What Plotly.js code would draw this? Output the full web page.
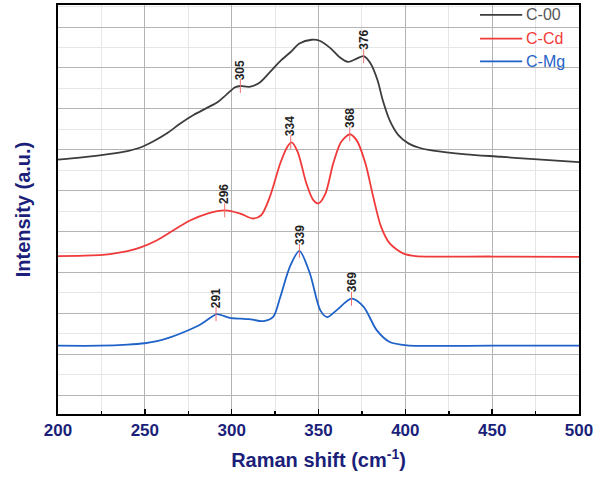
<!DOCTYPE html>
<html>
<head>
<meta charset="utf-8">
<script src="https://cdn.plot.ly/plotly-3.0.1.min.js"></script>
<style>html,body{margin:0;padding:0;background:#fff}#chart{width:602px;height:479px}</style>
</head>
<body>
<div id="chart"></div>
<script>
// C-00 (black)
const x00 = [200, 215, 230, 240, 247, 255, 263, 270, 278, 286, 292, 297, 302, 305, 310, 316, 322, 328, 334, 339, 346, 351, 357, 362, 367, 372, 376, 380, 384, 387, 391, 396, 402, 408, 416, 435, 455, 474, 500];
const y00 = [5.76, 5.82, 5.90, 5.97, 6.05, 6.21, 6.41, 6.63, 6.85, 7.03, 7.17, 7.35, 7.53, 7.56, 7.54, 7.64, 7.90, 8.17, 8.39, 8.60, 8.69, 8.66, 8.48, 8.27, 8.15, 8.23, 8.29, 8.11, 7.70, 7.21, 6.72, 6.36, 6.15, 6.05, 5.98, 5.89, 5.83, 5.77, 5.70];
// C-Cd (red)
const xCd = [200, 215, 230, 240, 248, 257, 266, 276, 286, 296, 305, 312, 317, 322, 328, 332, 334.5, 338, 343, 347, 350, 354, 358.5, 363, 368, 372, 377, 381.5, 386, 391, 399, 406, 450, 500];
const yCd = [3.40, 3.41, 3.45, 3.52, 3.62, 3.79, 4.02, 4.27, 4.44, 4.52, 4.44, 4.32, 4.40, 4.85, 5.67, 6.07, 6.18, 5.95, 5.18, 4.77, 4.69, 4.93, 5.67, 6.19, 6.38, 6.23, 5.67, 4.85, 4.12, 3.71, 3.46, 3.40, 3.39, 3.38];
// C-Mg (blue)
const xMg = [200, 224, 240, 250, 257, 265, 274, 282, 289, 291.5, 299, 305, 310, 318.5, 324, 328, 333.5, 339, 345, 351, 355, 360.5, 369, 376, 383.5, 391, 401, 450, 500];
const yMg = [1.21, 1.21, 1.235, 1.27, 1.32, 1.42, 1.57, 1.73, 1.93, 1.98, 1.89, 1.87, 1.86, 1.81, 1.92, 2.40, 3.14, 3.53, 2.98, 2.08, 1.91, 2.08, 2.36, 2.16, 1.59, 1.30, 1.22, 1.21, 1.21];

// labelled peaks
const peakX = [305, 376, 296, 334, 368, 291, 339, 369];
const peakY = [7.56, 8.29, 4.52, 6.18, 6.38, 1.98, 3.53, 2.36];
const peakLabels = ['305', '376', '296', '334', '368', '291', '339', '369'];

const seriesNames = ['C-00', 'C-Cd', 'C-Mg'];
const seriesColors = ['#3c3c3c', '#f03a3a', '#1f62c8'];
const legendTextColors = ['#555555', '#f03a3a', '#1f62c8'];
const xTicks = [200, 250, 300, 350, 400, 450, 500];

const FONT = 'Liberation Sans, Arial, sans-serif';
const navy = '#1b1f7a';
const series = [[x00, y00], [xCd, yCd], [xMg, yMg]];
const traces = series.map((s, i) => ({
  x: s[0], y: s[1], type: 'scatter', mode: 'lines', name: seriesNames[i], showlegend: false,
  line: {color: seriesColors[i], width: 1.8, shape: 'spline', smoothing: 0.8},
  hoverinfo: 'skip'
}));

traces.push({
  x: peakX, y: peakY, type: 'scatter', mode: 'markers', showlegend: false,
  marker: {symbol: 'line-ns-open', size: 10, color: '#f07070', line: {color: '#f07070', width: 1}},
  hoverinfo: 'skip'
});

const annotations = peakX.map((px, i) => ({
  x: px, y: peakY[i], xref: 'x', yref: 'y', text: peakLabels[i],
  showarrow: false, textangle: -90, xanchor: 'center', yanchor: 'bottom', yshift: 4,
  font: {family: FONT, size: 12, color: '#222222', weight: 'bold'}
}));

// manual legend (line segment + coloured name), placed in paper coords
const legY = [0.976, 0.918, 0.862];
const shapes = [];
seriesNames.forEach((n, i) => {
  shapes.push({type: 'line', xref: 'paper', yref: 'paper', x0: 0.810, x1: 0.891, y0: legY[i], y1: legY[i],
    line: {color: seriesColors[i], width: 1.8}});
  annotations.push({xref: 'paper', yref: 'paper', x: 0.894, y: legY[i], xanchor: 'left', yanchor: 'middle',
    text: n, showarrow: false, font: {family: FONT, size: 16, color: legendTextColors[i]}});
});

const layout = {
  width: 602, height: 479,
  margin: {l: 58, r: 23, t: 5, b: 65},
  paper_bgcolor: '#ffffff', plot_bgcolor: '#ffffff',
  font: {family: FONT},
  showlegend: false,
  xaxis: {
    range: [200, 500], tickvals: xTicks, ticktext: xTicks.map(String),
    ticks: 'inside', ticklen: 5, tickwidth: 1.5, tickcolor: '#000',
    showline: true, linecolor: '#000', linewidth: 2, mirror: true,
    showgrid: true, gridcolor: '#b4b4b4', gridwidth: 1, zeroline: false,
    minor: {dtick: 25, tick0: 225, ticks: 'inside', ticklen: 3, tickcolor: '#000', showgrid: true, gridcolor: '#e6e6e6', gridwidth: 1},
    tickfont: {size: 17, color: navy, weight: 'bold', family: FONT},
    title: {text: 'Raman shift (cm<sup>-1</sup>)', standoff: 14,
      font: {size: 20, color: navy, weight: 'bold', family: FONT}}
  },
  yaxis: {
    range: [-0.46, 9.54], dtick: 1, tick0: 0, showticklabels: false, ticks: '',
    showline: true, linecolor: '#000', linewidth: 2, mirror: true,
    showgrid: true, gridcolor: '#b4b4b4', gridwidth: 1, zeroline: false,
    minor: {dtick: 0.5, showgrid: true, gridcolor: '#e6e6e6', gridwidth: 1},
    title: {text: 'Intensity (a.u.)', standoff: 20,
      font: {size: 20, color: navy, weight: 'bold', family: FONT}}
  },
  shapes: shapes,
  annotations: annotations
};

Plotly.newPlot('chart', traces, layout, {staticPlot: true, displayModeBar: false});
</script>
</body>
</html>
